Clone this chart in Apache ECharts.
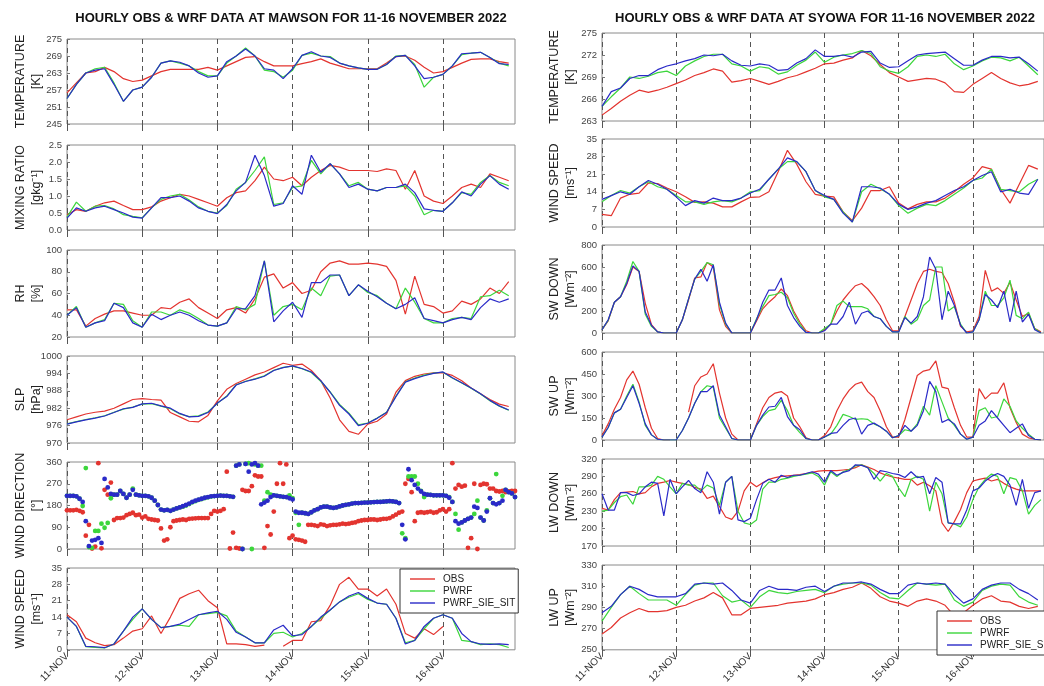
<!DOCTYPE html>
<html><head><meta charset="utf-8">
<script src="https://cdn.jsdelivr.net/npm/echarts@6/dist/echarts.min.js"></script>
<style>html,body{margin:0;padding:0;background:#fff}#c{width:1044px;height:686px}</style>
</head><body><div id="c"></div>
<script>
// ---------- tick labels / categories ----------
const DAY_LABELS = ['11-NOV','12-NOV','13-NOV','14-NOV','15-NOV','16-NOV'];
const DAY_HOURS = [0,24,48,72,96,120];
const HOURS_1 = Array.from({length:144},(_, i)=>i);
const HOURS_2 = Array.from({length:72},(_, i)=>2*i);
const HOURS_3 = Array.from({length:48},(_, i)=>3*i);
const SERIES_NAMES = ['OBS','PWRF','PWRF_SIE_SIT'];

// ---------- MAWSON ----------
const MAW_T_OBS  = [256,259.5,263,263.5,265,263.5,261,260,260.5,262,263.5,264.3,264.3,264.3,264.3,265,264,265.5,267,268.5,268.8,267,265.5,265.5,265.5,266.3,267,268,266.5,265.5,264.5,264.5,264.5,264.5,266.5,268.8,269,267.5,265,263,263.5,265,266.5,267.8,268,268,267,266.5];
const MAW_T_PWRF = [254,259,263,264.5,265,259.5,253,257,258,261.5,266.5,267.3,266.5,265.5,263.5,262,262,266.5,269,271.8,269,264,263.5,261.5,264,269.2,270,269,268.8,266.5,265.5,264.8,264.3,264.3,266,269,269.2,266,258,261.5,262.5,265.5,269.5,270,270.3,268.5,266.5,265.5];
const MAW_T_SIE  = [254,259,263,264,264.5,259,253,257,258,261.5,266.5,267.3,266.8,265.5,263,261.5,262,267,269,271.5,269,264.5,264,261,264.5,269.2,270.5,269,268.5,266.5,265.5,264.8,264.3,264.3,266,268.8,269.2,265.5,261,261.5,262.5,265.5,269.8,270,270.3,268.5,266.3,266];

const MAW_MR_OBS  = [0.45,0.6,0.55,0.7,0.8,0.85,0.72,0.6,0.6,0.68,0.85,0.95,1.05,1.0,0.9,0.8,0.7,0.95,1.1,1.15,1.45,1.85,1.5,1.45,1.55,1.3,1.55,1.75,1.9,1.85,1.75,1.75,1.75,1.72,1.8,1.75,1.2,1.75,1.0,0.85,0.78,1.0,1.25,1.35,1.25,1.65,1.55,1.45];
const MAW_MR_PWRF = [0.38,0.82,0.55,0.7,0.72,0.62,0.45,0.4,0.36,0.65,0.9,1.0,1.05,0.88,0.68,0.55,0.5,0.72,1.2,1.4,1.75,2.15,0.75,0.8,1.25,1.3,2.05,1.65,1.95,1.65,1.3,1.4,1.2,1.15,1.25,1.25,1.3,1.0,0.45,0.58,0.55,0.8,1.1,1.05,1.4,1.6,1.4,1.3];
const MAW_MR_SIE  = [0.35,0.65,0.55,0.65,0.7,0.6,0.5,0.38,0.35,0.65,0.95,0.95,1.0,0.85,0.65,0.55,0.48,0.75,1.15,1.4,2.2,1.6,0.7,0.78,1.3,1.05,2.2,1.7,1.95,1.65,1.25,1.35,1.2,1.15,1.25,1.25,1.35,1.1,0.62,0.58,0.55,0.8,1.12,1.0,1.35,1.6,1.35,1.2];

const MAW_RH_OBS  = [45,45,30,37,41,44,44,42,40,40,47,46,52,55,47,42,37,45,47,42,55,75,78,65,70,60,63,80,88,90,87,87,88,87,85,72,41,76,50,48,42,44,53,50,55,65,60,71];
const MAW_RH_PWRF = [40,48,29,33,36,51,50,35,29,43,43,40,45,42,37,31,30,33,48,45,50,90,40,48,50,45,65,58,76,77,58,68,61,58,51,46,65,52,37,33,33,37,38,37,57,58,63,58];
const MAW_RH_SIE  = [40,47,29,33,35,51,47,33,29,41,36,40,43,40,35,31,30,33,46,46,58,90,34,44,52,38,70,70,77,77,58,68,62,57,51,46,50,56,37,35,33,36,38,36,47,55,52,55];

const MAW_SLP_OBS  = [978,979,980,980.6,981,982,983.5,985,985.3,985,984.8,980.5,979,977.5,977.3,979.5,984.5,988.5,990.5,992,993.5,994.5,996,997.5,996.8,997.2,995,991.5,985.5,978,974,973,976.5,977.5,980,987.5,991.5,993,993.8,994.2,994.2,993.3,991.5,989,987,985,983.4,982.6];
const MAW_SLP_PWRF = [976.6,977.4,978.1,978.7,979.4,980.6,981.7,982.4,983.4,983.6,982.7,981.8,980,979.1,979.4,980.7,983.7,986.2,990.1,991.3,992.1,993.2,995.1,996.1,996.5,995.6,994.3,991.3,987.6,983.3,980.3,976.3,976.9,978.6,980.6,986.2,991.1,992.4,993.4,994.1,994.4,992.4,990.7,988.9,986.9,984.6,982.7,981.3];
const MAW_SLP_SIE  = [976.5,977.3,978,978.6,979.3,980.5,981.8,982.3,983.5,983.7,982.8,982,980.2,979,979.2,980.5,983.8,986,990,991.2,992,993,995,996,996.6,995.7,994.5,991.5,987.5,983,980,976,976.8,978.5,980.5,986,991,992.2,993.2,994,994.5,992.5,990.8,989,987,984.7,982.8,981.4];

const MAW_WD_OBS = [160,160,160,162,158,152,55,100,2,10,355,3,
 245,225,275,120,128,128,130,140,145,150,140,142,
 130,135,125,122,120,118,85,35,40,90,115,118,
 120,122,120,125,126,127,128,128,128,128,145,158,
 155,158,165,320,2,68,5,2,245,240,240,260,
 305,300,300,5,95,60,155,270,355,270,350,45,
 55,40,38,35,30,100,100,98,95,102,100,95,
 98,100,100,102,105,103,105,108,110,115,118,120,
 120,122,122,120,122,125,125,128,135,142,150,155,
 270,290,235,115,150,152,150,152,155,150,152,160,
 165,155,165,355,250,265,258,262,5,45,270,0,
 265,270,268,250,250,240,238,240,235,238,240,240];
const MAW_WD_PWRF = [220,220,220,218,208,178,335,8,5,75,75,105,
 88,108,210,225,225,240,228,212,225,250,225,222,
 220,220,218,212,200,182,163,160,162,158,163,168,
 172,175,180,186,193,198,203,207,211,214,217,219,
 220,221,220,220,218,216,345,350,0,352,355,0,
 350,345,345,200,235,225,222,220,218,216,215,222,
 210,150,100,150,148,145,152,160,165,172,175,175,
 172,170,172,176,180,183,185,188,190,190,191,192,
 192,193,194,195,195,196,197,198,197,195,190,65,
 45,300,300,300,270,240,215,225,224,222,222,222,
 222,220,215,195,145,80,110,118,125,130,145,200,
 130,118,160,210,190,310,190,220,245,235,230,215];
const MAW_WD_SIE = [220,220,220,218,208,195,115,12,35,38,45,25,
 290,255,228,225,225,240,228,212,225,245,225,222,
 220,220,218,212,200,182,163,160,162,158,163,168,
 172,177,182,188,195,200,204,208,212,215,218,219,
 220,221,220,220,218,216,345,350,0,352,320,350,
 355,345,185,192,200,215,222,220,218,216,215,210,
 205,155,150,150,148,145,152,160,165,172,175,175,
 172,170,172,176,180,183,185,188,190,190,191,192,
 192,193,194,195,195,196,197,198,197,195,190,100,
 40,330,285,265,250,238,228,225,224,222,222,222,
 222,220,212,195,115,105,110,118,125,130,175,170,
 130,118,155,210,190,185,190,200,245,235,230,215];

const MAW_WS_OBS  = [15,12,5,3,1.8,2.2,5,8,9,14.5,7,14,22,24,25.5,21,18,2.5,2.5,2.2,1.5,2,null,1.5,4,4,12,12.5,19,28,31,26,26,23,26,19.5,7,5,9,6.5,10,null,null,null,null,null,null,null];
const MAW_WS_PWRF = [14,10,1.3,1.0,0.8,2.5,8,13,17.5,13,9.5,10,10.5,10,15,15.5,16,14.5,8,5.5,3,3,7,7.5,5.5,7,10,13.5,17,20.5,22.5,24,21.5,20,19.5,13.5,3,4,9,13.5,15,13.5,4,3.5,2.2,2.5,2.2,1.0];
const MAW_WS_SIE  = [14,10,1.5,1.3,0.9,2.5,8,14,17.5,13,9.5,10,11,13,15,15.8,16.5,13,7.5,5.5,3,3,8.5,10.5,6,6.5,10,14,17,20.5,23,24.5,22,20,19.5,13.5,2.5,4,10,13.5,15,13.5,7,3.5,2.5,2.3,2.5,2.2];

// ---------- SYOWA ----------
const SYO_T_OBS  = [263.8,264.7,265.7,266.5,267.2,266.9,267.2,267.6,268.1,268.6,269.2,269.6,270.1,269.8,268.3,268.5,268.8,268.4,268,268.4,268.9,269.2,269.7,270.2,270.8,270.9,271.3,271.6,272.6,271.9,270.7,269.6,269,268.4,268.6,268.8,268.7,268.2,267,266.9,268,268.8,269.6,268.8,268.2,267.8,268,268.4];
const SYO_T_PWRF = [265,266.3,267.5,269,268.8,269.1,269.6,269.8,269.2,270.5,271.2,271.8,272.1,272.1,270.8,270.5,269.8,270.4,270.2,269.4,269.7,270.6,271.3,272.4,271,271.7,272,272.2,272.6,272.2,270.4,269.8,269.5,270.4,271.8,272,271.8,272.1,270.8,270,270.5,271.2,271.7,271.6,271.2,271.7,270.5,269.3];
const SYO_T_SIE  = [265,267,267.5,268.8,269.2,269.2,270,270.5,270.8,271.2,271.5,272,271.9,272.1,271.2,270.6,270.5,270.8,270.6,269.9,270,270.9,271.5,272.7,271.8,271.8,272,271.7,272.4,272.5,270.9,270.3,270.4,271.2,272,272.2,272.3,272.4,271.5,270.6,270.6,271.3,271.8,271.8,271.6,271.7,270.8,269.8];

const SYO_WS_OBS  = [5,4.5,11.5,13,13.5,17.5,17.3,15.5,14,12,9.8,10,9.5,8,8,10,11.8,12,14,22,30.5,25,18,13,12.3,12,6,2.5,7.5,14.5,14.5,16,9.5,7.2,9,10,10,11.5,14,17,19.5,24,23,15,9.5,17,24.5,23];
const SYO_WS_PWRF = [10,12.5,14.5,13.5,16,18,16,15,12.5,10,10,9,10,10.5,10,11.5,14,14.5,19,23,26,26,22,14.5,12,11,6,2,14,17,15.2,13,8.5,5.5,7.5,9,8.5,10.5,13,15.5,18.5,19.5,23,15,14.5,14,17,19];
const SYO_WS_SIE  = [11,12.5,14,13,16,18.5,17,15,12,8.5,10.5,9.5,11.5,10.5,10.5,11.5,13.5,15,19,23,27.5,26,22,14.5,12.5,11,5.5,2,16,16,15.5,13,9,7,8,9.5,10.5,12.5,14.5,16,18.5,20.5,22,14,15,13.5,13,19];

const SYO_SWD_OBS  = [30,110,280,330,440,600,560,270,75,10,0,0, 0,120,300,500,510,640,600,210,60,0,0,0, 0,110,220,280,330,400,340,200,100,20,0,0, 30,80,200,300,370,430,450,400,330,250,120,20, 20,150,300,450,560,580,560,550,450,280,60,10, 20,150,570,380,410,360,460,300,150,180,40,10];
const SYO_SWD_PWRF = [30,115,280,330,470,650,560,170,60,10,0,0, 0,120,310,490,560,640,620,260,80,0,0,0, 0,130,240,340,350,370,320,180,80,5,0,0, 40,80,250,290,240,240,240,220,150,130,60,10, 10,150,80,120,250,300,600,600,200,240,80,0, 10,120,380,250,250,320,480,160,130,190,40,0];
const SYO_SWD_SIE  = [30,120,280,330,450,610,560,190,70,10,0,0, 0,120,310,490,580,470,620,280,90,0,0,0, 0,120,280,390,390,500,250,140,60,5,0,0, 20,80,80,150,280,80,180,200,150,130,60,10, 10,140,90,150,330,690,580,120,380,250,70,0, 10,120,350,300,230,380,100,380,100,170,30,0];

const SYO_SWU_OBS  = [30,110,210,290,410,470,380,220,80,10,0,0, null,null,190,370,430,450,520,320,150,40,0,0, 0,110,220,290,320,330,300,150,90,15,0,0, 30,90,200,280,340,380,395,330,290,200,90,20, 20,140,290,440,470,480,540,360,350,220,100,20, 20,350,280,320,320,390,220,120,40,15,5,0];
const SYO_SWU_PWRF = [20,85,185,210,300,380,260,100,35,5,0,0, 0,65,150,250,330,370,360,150,80,10,0,0, 0,100,160,200,210,270,200,100,50,10,0,0, 20,40,100,175,160,140,145,140,110,90,60,15, 30,70,60,110,230,170,370,260,150,100,40,5, 20,200,220,150,160,280,230,130,80,40,5,0];
const SYO_SWU_SIE  = [20,85,185,210,290,370,250,110,35,5,0,0, 0,65,150,250,330,330,370,170,90,10,0,0, 0,100,170,225,230,290,160,100,70,10,0,0, 20,45,50,100,140,150,40,100,115,90,60,15, 30,100,60,100,200,400,330,120,140,110,40,5, 20,100,130,200,150,100,50,80,110,30,5,0];

const SYO_LWD_OBS  = [235,232,250,262,263,264,260,262,272,278,280,283, 280,278,276,271,268,252,256,238,220,216,230,265, 280,272,279,285,288,290,291,292,293,295,297,299, 300,300,300,301,302,305,310,306,302,296,292,289, 287,285,285,275,280,274,265,210,195,212,233,262, 282,285,287,282,285,278,272,268,265,265,265,265];
const SYO_LWD_PWRF = [230,232,245,255,258,242,272,272,275,290,285,272, 260,278,275,275,265,275,270,240,280,290,230,210, 207,215,268,280,280,285,287,290,292,294,296,290, 275,298,290,298,302,308,310,305,295,282,295,290, 270,255,285,290,285,230,280,260,210,208,203,220, 250,272,285,294,290,260,288,285,265,225,240,250];
const SYO_LWD_SIE  = [260,232,232,262,262,257,260,272,280,278,222,285, 260,272,283,269,262,298,280,225,280,290,215,212, 218,250,278,285,280,292,288,292,292,295,298,294, 280,300,292,297,300,310,309,305,285,300,298,295, 293,288,298,288,290,260,288,280,210,208,208,232, 265,270,282,290,295,290,275,240,285,235,262,265];

const SYO_LWU_OBS  = [265,271,280,285,289,286,286,287,290,292,296,299,304,299,283,283,289,290,291,292,294,295,296,298,302,304,307,309,313,308,300,296,294,291,296,298,296,292,282,285,292,298,301,296,295,291,289,291];
const SYO_LWU_PWRF = [277,290,302,310,303,297,297,297,292,302,311,313,313,301,295,297,290,300,306,304,303,305,306,307,304,310,312,313,313,311,304,299,298,306,313,312,311,312,297,291,295,306,310,312,311,300,295,292];
const SYO_LWU_SIE  = [285,291,302,310,307,302,300,300,300,303,312,313,312,313,306,297,294,306,310,307,307,306,309,310,305,310,313,313,314,312,307,303,303,311,313,312,313,312,302,294,298,307,311,313,313,307,303,297];

// ---------- layout / styling ----------
const COLORS = ['#e3342f','#3cd63c','#2a2ac8'];
const FONT = 'Liberation Sans, Arial, Helvetica, sans-serif';
const L = {left:67, width:448};
const R = {left:602, width:450};

const PANELS = [
 {g:{...L,top:39,height:85},  min:245,max:275,interval:6, name:'TEMPERATURE\n[K]', hours:HOURS_3, d:[MAW_T_OBS,MAW_T_PWRF,MAW_T_SIE]},
 {g:{...L,top:145,height:85}, min:0,max:2.5,interval:0.5, name:'MIXING RATIO\n[gkg\u207B\u00B9]', hours:HOURS_3, d:[MAW_MR_OBS,MAW_MR_PWRF,MAW_MR_SIE], fmt:v=>v.toFixed(1)},
 {g:{...L,top:250,height:87}, min:20,max:100,interval:20, name:'RH\n[%]', hours:HOURS_3, d:[MAW_RH_OBS,MAW_RH_PWRF,MAW_RH_SIE]},
 {g:{...L,top:356,height:87}, min:970,max:1000,interval:6, name:'SLP\n[hPa]', hours:HOURS_3, d:[MAW_SLP_OBS,MAW_SLP_PWRF,MAW_SLP_SIE]},
 {g:{...L,top:462,height:87}, min:0,max:360,interval:90, name:'WIND DIRECTION\n[\u00B0]', hours:HOURS_1, d:[MAW_WD_OBS,MAW_WD_PWRF,MAW_WD_SIE], scatter:true},
 {g:{...L,top:568,height:88}, min:0,max:35,interval:7, name:'WIND SPEED\n[ms\u207B\u00B9]', hours:HOURS_3, d:[MAW_WS_OBS,MAW_WS_PWRF,MAW_WS_SIE], bottom:true},
 {g:{...R,top:33,height:88},  min:263,max:275,interval:3, name:'TEMPERATURE\n[K]', hours:HOURS_3, d:[SYO_T_OBS,SYO_T_PWRF,SYO_T_SIE]},
 {g:{...R,top:139,height:88}, min:0,max:35,interval:7, name:'WIND SPEED\n[ms\u207B\u00B9]', hours:HOURS_3, d:[SYO_WS_OBS,SYO_WS_PWRF,SYO_WS_SIE]},
 {g:{...R,top:245,height:88}, min:0,max:800,interval:200, name:'SW DOWN\n[Wm\u207B\u00B2]', hours:HOURS_2, d:[SYO_SWD_OBS,SYO_SWD_PWRF,SYO_SWD_SIE]},
 {g:{...R,top:352,height:88}, min:0,max:600,interval:150, name:'SW UP\n[Wm\u207B\u00B2]', hours:HOURS_2, d:[SYO_SWU_OBS,SYO_SWU_PWRF,SYO_SWU_SIE]},
 {g:{...R,top:459,height:87}, min:170,max:320,interval:30, name:'LW DOWN\n[Wm\u207B\u00B2]', hours:HOURS_2, d:[SYO_LWD_OBS,SYO_LWD_PWRF,SYO_LWD_SIE]},
 {g:{...R,top:565,height:87}, min:250,max:330,interval:20, name:'LW UP\n[Wm\u207B\u00B2]', hours:HOURS_3, d:[SYO_LWU_OBS,SYO_LWU_PWRF,SYO_LWU_SIE], bottom:true}
];

const grids=[], xAxes=[], yAxes=[], series=[];
PANELS.forEach((p,k)=>{
  const right = p.g.left > 300;
  grids.push({...p.g, show:true, borderColor:'#8a8a8a', borderWidth:1, containLabel:false});
  xAxes.push({type:'value', gridIndex:k, min:0, max:143,
    axisLine:{show:false},
    axisTick:{show:true, customValues:DAY_HOURS, length:7, lineStyle:{color:'#555'}},
    axisLabel:{show:!!p.bottom, customValues:DAY_HOURS, rotate:45, margin:5, fontSize:10, color:'#333', fontFamily:FONT,
      formatter:v=>DAY_LABELS[Math.round(v/24)]},
    splitLine:{show:true, lineStyle:{type:[5,4], color:'#555', width:1}}
  });
  yAxes.push({type:'value', gridIndex:k, min:p.min, max:p.max, interval:p.interval,
    axisLine:{show:false}, splitLine:{show:false},
    axisTick:{show:true, inside:true, length:3, lineStyle:{color:'#777'}},
    axisLabel:{fontSize:9.5, color:'#444', margin:5, fontFamily:FONT, formatter:p.fmt||(v=>String(v))},
    name:p.name, nameLocation:'middle', nameGap: right ? 23 : 22, nameMoveOverlap:false,
    nameTextStyle:{fontSize:12.5, color:'#222', lineHeight:16, fontFamily:FONT}
  });
  p.d.forEach((vals,s)=>{
    const data = p.hours.map((h,i)=>[h, vals[i]]);
    if (p.scatter) {
      series.push({type:'scatter', name:SERIES_NAMES[s], xAxisIndex:k, yAxisIndex:k, data,
        symbolSize:4.8, itemStyle:{color:COLORS[s], opacity:1}, z:2+s});
    } else {
      series.push({type:'line', name:SERIES_NAMES[s], xAxisIndex:k, yAxisIndex:k, data,
        symbol:'none', showSymbol:false, connectNulls:false,
        lineStyle:{color:COLORS[s], width:1.2}, itemStyle:{color:COLORS[s]}, z:2+s});
    }
  });
});

const legendData = SERIES_NAMES.map((n,i)=>({name:n, icon:'rect', itemStyle:{color:COLORS[i]}}));
const legendBase = {orient:'vertical', data:legendData, backgroundColor:'#fff', borderColor:'#333', borderWidth:1,
  padding:[5,3,5,10], itemGap:2, itemWidth:25, itemHeight:1.4, selectedMode:false,
  textStyle:{fontSize:10, color:'#222', fontFamily:FONT, lineHeight:10, padding:[0,0,0,3]}};

const chart = echarts.init(document.getElementById('c'), null, {renderer:'canvas'});
chart.setOption({
  animation:false,
  backgroundColor:'#fff',
  color:COLORS,
  grid:grids, xAxis:xAxes, yAxis:yAxes, series,
  legend:[{...legendBase, left:400, top:569}, {...legendBase, left:937, top:611}],
  graphic:[
    {type:'text', x:291, y:18, style:{text:'HOURLY OBS & WRF DATA AT MAWSON FOR 11-16 NOVEMBER 2022', font:'bold 13px '+FONT, fill:'#111', textAlign:'center', textVerticalAlign:'middle'}},
    {type:'text', x:825, y:18, style:{text:'HOURLY OBS & WRF DATA AT SYOWA FOR 11-16 NOVEMBER 2022', font:'bold 13px '+FONT, fill:'#111', textAlign:'center', textVerticalAlign:'middle'}}
  ]
});
</script>
</body></html>
